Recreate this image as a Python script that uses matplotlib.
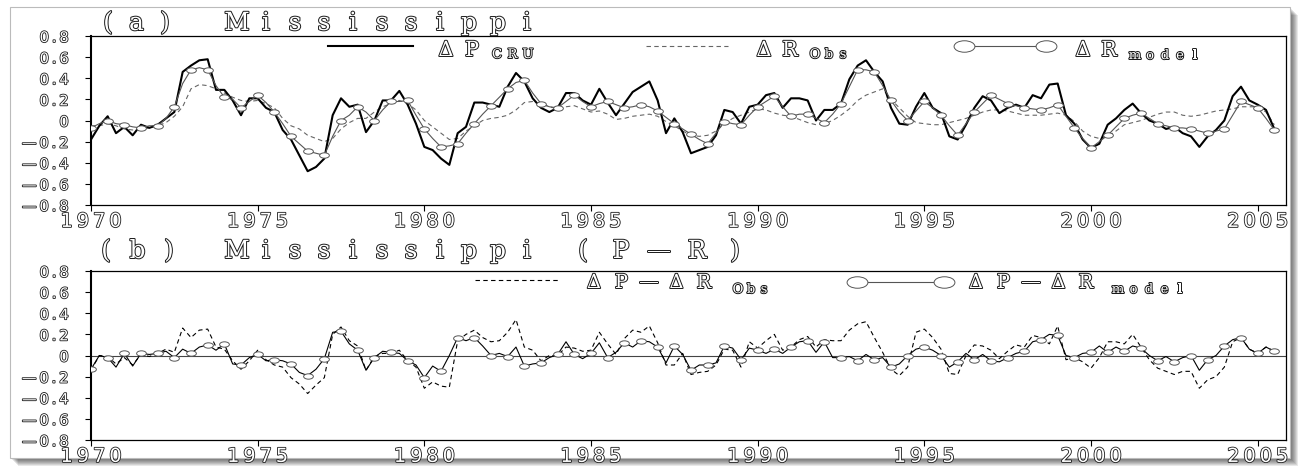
import numpy as np
import matplotlib
matplotlib.use('Agg')
import matplotlib.pyplot as plt
import matplotlib.patheffects as pe
from matplotlib.patches import Rectangle
from matplotlib.lines import Line2D
from matplotlib.path import Path
from matplotlib.transforms import Affine2D
from matplotlib.markers import MarkerStyle

# quarterly anomalies, 1970.0 .. 2005.5
p_cru = [-0.18, -0.05, 0.04, -0.12, -0.06, -0.14, -0.04, -0.07, -0.04, 0.02, 0.08, 0.46,
         0.52, 0.57, 0.58, 0.29, 0.29, 0.19, 0.05, 0.21, 0.21, 0.12, 0.08, -0.09,
         -0.18, -0.33, -0.48, -0.44, -0.36, 0.05, 0.21, 0.13, 0.15, -0.11, 0.00, 0.19,
         0.19, 0.28, 0.15, -0.03, -0.25, -0.28, -0.36, -0.42, -0.12, -0.06, 0.17, 0.17,
         0.15, 0.13, 0.32, 0.45, 0.37, 0.21, 0.12, 0.08, 0.12, 0.26, 0.26, 0.19,
         0.15, 0.30, 0.17, 0.05, 0.16, 0.27, 0.32, 0.37, 0.19, -0.12, 0.02, -0.11,
         -0.31, -0.28, -0.25, -0.14, 0.10, 0.08, -0.03, 0.13, 0.15, 0.24, 0.26, 0.12,
         0.21, 0.21, 0.19, 0.00, 0.10, 0.10, 0.16, 0.39, 0.52, 0.57, 0.46, 0.37,
         0.12, -0.03, -0.04, 0.13, 0.26, 0.12, 0.07, -0.15, -0.18, -0.04, 0.12, 0.23,
         0.19, 0.07, 0.12, 0.15, 0.12, 0.24, 0.21, 0.34, 0.35, 0.05, -0.03, -0.18,
         -0.26, -0.22, -0.04, 0.02, 0.10, 0.16, 0.07, 0.00, -0.03, -0.08, -0.06, -0.12,
         -0.15, -0.25, -0.15, -0.09, 0.00, 0.23, 0.32, 0.19, 0.15, 0.10, -0.08]

r_obs = [-0.05, -0.05, -0.03, -0.05, -0.08, -0.09, -0.08, -0.07, -0.05, -0.02, 0.04, 0.13,
         0.30, 0.34, 0.33, 0.30, 0.26, 0.22, 0.19, 0.18, 0.19, 0.16, 0.12, 0.02,
         -0.05, -0.08, -0.14, -0.17, -0.20, -0.17, -0.08, -0.02, 0.02, 0.02, 0.08, 0.13,
         0.16, 0.19, 0.16, 0.10, 0.00, -0.06, -0.12, -0.18, -0.17, -0.10, -0.05, 0.00,
         0.02, 0.03, 0.05, 0.10, 0.17, 0.18, 0.16, 0.13, 0.11, 0.13, 0.14, 0.11,
         0.08, 0.09, 0.06, 0.01, 0.02, 0.04, 0.05, 0.06, 0.04, -0.01, -0.05, -0.10,
         -0.14, -0.15, -0.14, -0.10, -0.03, 0.02, 0.05, 0.08, 0.11, 0.10, 0.07, 0.05,
         0.04, 0.01, -0.02, -0.04, -0.03, 0.00, 0.05, 0.11, 0.19, 0.24, 0.27, 0.30,
         0.20, 0.12, 0.04, -0.02, -0.03, -0.04, -0.04, -0.02, 0.00, 0.02, 0.05, 0.08,
         0.10, 0.10, 0.09, 0.07, 0.05, 0.05, 0.05, 0.06, 0.07, 0.05, -0.01, -0.10,
         -0.15, -0.17, -0.15, -0.10, -0.04, -0.02, 0.00, 0.03, 0.06, 0.08, 0.08, 0.05,
         0.04, 0.05, 0.07, 0.09, 0.10, 0.11, 0.13, 0.13, 0.13, 0.08, -0.04]

r_model = [-0.07, -0.03, 0.00, -0.03, -0.04, -0.06, -0.07, -0.05, -0.05, 0.02, 0.13, 0.35,
           0.48, 0.50, 0.48, 0.33, 0.22, 0.20, 0.12, 0.18, 0.24, 0.17, 0.08, -0.03,
           -0.15, -0.22, -0.29, -0.31, -0.33, -0.15, 0.00, 0.05, 0.13, 0.08, 0.00, 0.10,
           0.18, 0.18, 0.19, 0.05, -0.08, -0.17, -0.25, -0.24, -0.22, -0.12, -0.03, 0.06,
           0.14, 0.22, 0.30, 0.36, 0.38, 0.26, 0.16, 0.13, 0.12, 0.18, 0.24, 0.18,
           0.13, 0.16, 0.18, 0.15, 0.12, 0.13, 0.15, 0.13, 0.09, 0.03, -0.03, -0.08,
           -0.13, -0.18, -0.22, -0.12, -0.01, -0.03, -0.04, 0.05, 0.13, 0.18, 0.23, 0.13,
           0.04, 0.06, 0.06, 0.02, -0.02, 0.06, 0.16, 0.32, 0.48, 0.48, 0.46, 0.33,
           0.19, 0.08, 0.00, 0.09, 0.18, 0.12, 0.05, -0.05, -0.14, -0.03, 0.08, 0.16,
           0.24, 0.20, 0.16, 0.14, 0.12, 0.11, 0.10, 0.12, 0.15, 0.04, -0.07, -0.17,
           -0.26, -0.20, -0.14, -0.06, 0.02, 0.05, 0.07, 0.02, -0.03, -0.05, -0.07, -0.07,
           -0.08, -0.10, -0.12, -0.10, -0.08, 0.05, 0.18, 0.15, 0.12, 0.02, -0.09]

pr_obs = [-0.14, 0.00, -0.01, -0.08, -0.02, -0.09, 0.01, -0.01, 0.02, 0.06, 0.03, 0.26,
          0.17, 0.24, 0.25, 0.08, 0.06, -0.05, -0.13, -0.05, 0.05, -0.04, -0.09, -0.11,
          -0.21, -0.27, -0.36, -0.28, -0.21, 0.20, 0.27, 0.14, 0.09, -0.14, -0.01, 0.02,
          0.02, 0.05, -0.05, -0.11, -0.31, -0.25, -0.29, -0.30, 0.14, 0.20, 0.24, 0.17,
          0.13, 0.14, 0.22, 0.34, 0.08, 0.05, -0.05, 0.00, 0.00, 0.08, 0.07, 0.04,
          0.05, 0.22, 0.11, 0.01, 0.16, 0.24, 0.22, 0.28, 0.12, -0.09, -0.09, 0.02,
          -0.18, -0.16, -0.15, -0.09, 0.06, 0.05, -0.11, 0.13, 0.07, 0.14, 0.20, 0.05,
          0.08, 0.15, 0.18, 0.08, 0.15, 0.14, 0.14, 0.24, 0.30, 0.32, 0.17, 0.03,
          -0.13, -0.19, -0.11, 0.22, 0.25, 0.17, 0.06, -0.17, -0.18, 0.00, 0.10, 0.09,
          0.05, -0.03, 0.04, 0.10, 0.08, 0.19, 0.17, 0.11, 0.28, -0.04, -0.02, -0.06,
          -0.12, -0.02, 0.13, 0.13, 0.11, 0.20, 0.08, -0.04, -0.12, -0.15, -0.18, -0.15,
          -0.15, -0.31, -0.23, -0.20, -0.11, 0.13, 0.17, 0.06, 0.02, 0.08, 0.04]

pr_model = [-0.13, 0.00, -0.02, -0.11, 0.02, -0.10, 0.02, 0.01, 0.02, 0.04, -0.02, 0.06,
            0.02, 0.08, 0.10, 0.05, 0.11, -0.08, -0.09, -0.02, 0.01, -0.05, -0.04, -0.05,
            -0.08, -0.16, -0.19, -0.13, -0.03, 0.22, 0.23, 0.11, 0.05, -0.14, -0.02, 0.04,
            0.03, 0.02, -0.05, -0.09, -0.21, -0.10, -0.15, 0.00, 0.17, 0.14, 0.17, 0.09,
            0.00, 0.02, -0.01, 0.08, -0.10, -0.08, -0.07, -0.02, 0.01, 0.13, 0.01, -0.03,
            0.02, 0.12, -0.02, 0.03, 0.12, 0.08, 0.14, 0.13, 0.08, -0.07, 0.09, 0.01,
            -0.14, -0.09, -0.09, -0.07, 0.09, 0.07, -0.04, 0.07, 0.05, 0.02, 0.06, 0.02,
            0.08, 0.13, 0.14, 0.03, 0.13, -0.02, -0.02, -0.01, -0.05, 0.01, -0.04, -0.02,
            -0.11, -0.08, 0.00, 0.06, 0.08, 0.05, 0.00, -0.11, -0.06, 0.02, -0.04, 0.01,
            -0.05, -0.06, -0.02, 0.02, 0.04, 0.13, 0.15, 0.20, 0.19, 0.00, -0.02, 0.02,
            0.03, 0.09, 0.03, 0.08, 0.04, 0.09, 0.07, 0.00, -0.05, -0.01, -0.06, -0.02,
            0.00, -0.14, -0.04, 0.00, 0.09, 0.15, 0.17, 0.06, 0.02, 0.08, 0.04]

years = 1970 + 0.25 * np.arange(len(p_cru))
xticks = [1970, 1975, 1980, 1985, 1990, 1995, 2000, 2005]
yticks = [-0.8, -0.6, -0.4, -0.2, 0.0, 0.2, 0.4, 0.6, 0.8]

W, H = 1301, 466
fig = plt.figure(figsize=(W / 100, H / 100), dpi=100)
fig.patch.set_facecolor('white')

# paper card with a soft drop shadow
for d in range(1, 9):
    fig.add_artist(Rectangle(((10 + d) / W, 1 - (458 + d) / H), 1280 / W, 451 / H,
                             transform=fig.transFigure, facecolor='#000000',
                             alpha=0.09, edgecolor='none', zorder=-3))
fig.add_artist(Rectangle((10 / W, 1 - 458 / H), 1280 / W, 451 / H,
                         transform=fig.transFigure, facecolor='white',
                         edgecolor='#bbbbbb', linewidth=0.8, zorder=-2))

outline = [pe.Stroke(linewidth=1.4, foreground='#1a1a1a'), pe.Normal()]
tick_outline = [pe.Stroke(linewidth=1.2, foreground='#1a1a1a'), pe.Normal()]

oval = MarkerStyle(Path.unit_circle().transformed(Affine2D().scale(1.0, 0.55)))


def spaced(x0, y, s, size, pitch, family='DejaVu Serif'):
    # hollow letters set at a fixed pitch, positions in pixels from the top-left
    for i, ch in enumerate(s):
        if ch == ' ':
            continue
        fig.text((x0 + i * pitch) / W, 1 - y / H, ch, ha='center', va='baseline',
                 fontsize=size, family=family, color='white', path_effects=outline)


def key(x1, x2, y, **kw):
    fig.add_artist(Line2D([x1 / W, x2 / W], [1 - y / H, 1 - y / H],
                          transform=fig.transFigure, **kw))


def ylabel_text(v):
    if abs(v) < 1e-9:
        return '0'
    s = '\u2009'.join(f'{abs(v):.1f}')
    return '\u2014\u2009' + s if v < 0 else s


def setup(ax):
    ax.set_xlim(1970, 2005.85)
    ax.set_ylim(-0.8, 0.8)
    ax.set_xticks(xticks)
    ax.set_xticklabels(['\u2009'.join(str(y)) for y in xticks])
    ax.set_yticks(yticks)
    ax.set_yticklabels([ylabel_text(v) for v in yticks])
    ax.tick_params(axis='x', direction='out', length=4, width=0.8, pad=1, labelsize=14)
    ax.tick_params(axis='y', direction='out', length=4, width=0.8, pad=12, labelsize=10.5)
    for lbl in ax.get_xticklabels() + ax.get_yticklabels():
        lbl.set_color('white')
        lbl.set_family('DejaVu Sans')
        lbl.set_path_effects(tick_outline)
    for side in ['top', 'right', 'bottom']:
        ax.spines[side].set_linewidth(0.9)
    ax.spines['left'].set_linewidth(1.5)


ax_a = fig.add_axes([91 / W, 1 - 205 / H, 1195 / W, 169 / H])
ax_b = fig.add_axes([91 / W, 1 - 440 / H, 1195 / W, 169 / H])

# (a) precipitation and runoff anomalies
ax_a.plot(years, p_cru, color='black', lw=1.5, zorder=3)
ax_a.plot(years, r_obs, color='#666666', lw=0.8, dashes=(4, 3), zorder=2)
ax_a.plot(years, r_model, color='#555555', lw=0.8, marker=oval, markersize=7,
          markevery=2, markerfacecolor='white', markeredgecolor='#555555',
          markeredgewidth=0.7, zorder=4)
setup(ax_a)

# (b) P - R
ax_b.axhline(0, color='#444444', lw=0.8, zorder=1)
ax_b.plot(years, pr_obs, color='black', lw=0.8, dashes=(4, 3), zorder=2)
ax_b.plot(years, pr_model, color='black', lw=0.8, marker=oval, markersize=7,
          markevery=2, markerfacecolor='white', markeredgecolor='#555555',
          markeredgewidth=0.7, zorder=3)
setup(ax_b)

# titles
spaced(108, 30, '(a)', 18, 28.5)
spaced(237, 30, 'Mississippi', 18, 29)
spaced(106, 258, '(b)', 18, 31.5)
spaced(237, 258, 'Mississippi', 18, 29)
spaced(583, 258, '(P\u2014R)', 18, 38)

# legend of (a)
key(328, 413, 46, color='black', lw=1.5)
spaced(446, 56, '\u0394P', 15, 26)
spaced(497, 58, 'CRU', 9.5, 15.5)
key(646, 728, 46, color='#666666', lw=0.8, dashes=(4, 3))
spaced(764, 56, '\u0394R', 15, 26)
spaced(815, 58, 'Obs', 9.5, 14)
key(964, 1046, 46, color='#555555', lw=0.8, marker=oval, markersize=15,
    markerfacecolor='white', markeredgecolor='#555555', markeredgewidth=0.7)
spaced(1083, 56, '\u0394R', 15, 26)
spaced(1135, 59, 'model', 9.5, 15)

# legend of (b)
key(475, 560, 280, color='black', lw=0.8, dashes=(4, 3))
spaced(594, 288, '\u0394P\u2014\u0394R', 14, 27.5)
spaced(738, 293, 'Obs', 9.5, 13)
key(857, 944, 282, color='#555555', lw=0.8, marker=oval, markersize=15,
    markerfacecolor='white', markeredgecolor='#555555', markeredgewidth=0.7)
spaced(976, 288, '\u0394P\u2014\u0394R', 14, 27.5)
spaced(1118, 293, 'model', 9.5, 15.5)

fig.savefig('out.png', dpi=100)
